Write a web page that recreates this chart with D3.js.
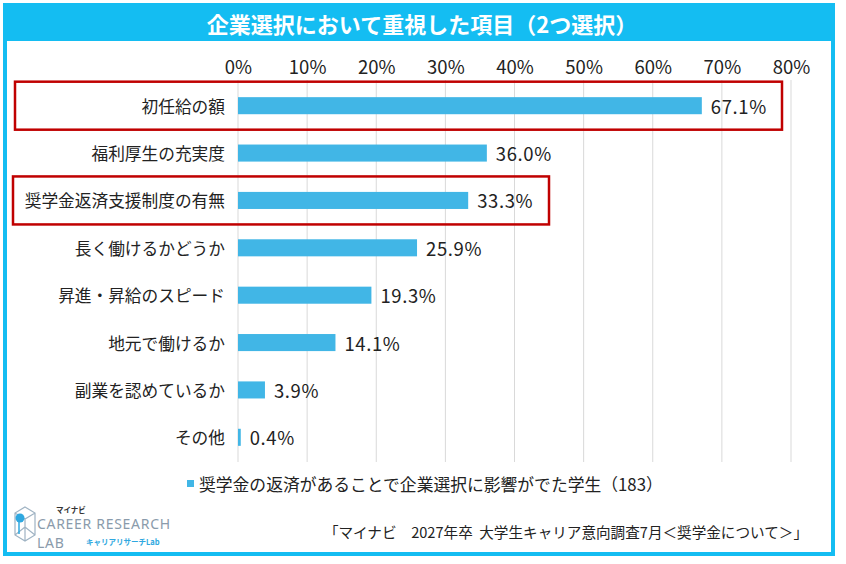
<!DOCTYPE html>
<html>
<head>
<meta charset="utf-8">
<script src="https://cdn.jsdelivr.net/npm/d3@7"></script>
<style>
  body { margin: 0; background: #fff; }
  text { font-family: "Noto Sans CJK JP", "Noto Sans", sans-serif; }
</style>
</head>
<body>
<div id="chart"></div>
<script>
var categories = ["初任給の額", "福利厚生の充実度", "奨学金返済支援制度の有無", "長く働けるかどうか",
  "昇進・昇給のスピード", "地元で働けるか", "副業を認めているか", "その他"];
var values = [67.1, 36.0, 33.3, 25.9, 19.3, 14.1, 3.9, 0.4];
var tickValues = [0, 10, 20, 30, 40, 50, 60, 70, 80];
var highlighted = ["初任給の額", "奨学金返済支援制度の有無"];

var title = "企業選択において重視した項目（2つ選択）";
var legendLabel = "奨学金の返済があることで企業選択に影響がでた学生（183）";
var source = "「マイナビ　2027年卒  大学生キャリア意向調査7月＜奨学金について＞」";

var width = 846, height = 564;
var blue = "#14bdf2";
var barColor = "#41b6e6";

var svg = d3.select("#chart")
  .append("svg")
  .attr("width", width)
  .attr("height", height);

// frame + title band
svg.append("rect")
  .attr("x", 3).attr("y", 3).attr("width", 832).attr("height", 38)
  .style("fill", blue);
svg.append("rect")
  .attr("x", 5).attr("y", 5).attr("width", 828).attr("height", 549)
  .style("fill", "none").style("stroke", blue).style("stroke-width", 4);

svg.append("text")
  .attr("x", 422).attr("y", 23)
  .attr("text-anchor", "middle")
  .attr("dominant-baseline", "central")
  .style("font-size", "22px").style("font-weight", "bold")
  .style("fill", "#fff")
  .text(title);

var x = d3.scaleLinear().domain([0, 80]).range([238, 791]);
var y = d3.scaleBand().domain(categories).range([82, 461])
  .paddingInner(0.64).paddingOuter(0.32);

// gridlines
svg.selectAll(".grid")
  .data(tickValues)
  .enter().append("line")
  .attr("class", "grid")
  .attr("x1", function(d) { return x(d); })
  .attr("x2", function(d) { return x(d); })
  .attr("y1", 80).attr("y2", 462)
  .style("stroke", "#d9d9d9").style("stroke-width", 1);

// top axis labels
var axis = svg.append("g")
  .attr("transform", "translate(0,74)")
  .call(d3.axisTop(x).tickValues(tickValues).tickSize(0).tickPadding(0)
    .tickFormat(function(d) { return d + "%"; }));
axis.select(".domain").remove();
axis.selectAll("text")
  .style("font-family", "\"Noto Sans CJK JP\", sans-serif")
  .style("font-size", "18.5px").style("fill", "#222");

// bars
svg.selectAll(".bar")
  .data(values)
  .enter().append("rect")
  .attr("class", "bar")
  .attr("x", x(0))
  .attr("y", function(d, i) { return y(categories[i]); })
  .attr("width", function(d) { return x(d) - x(0); })
  .attr("height", y.bandwidth())
  .style("fill", barColor);

// category labels
svg.selectAll(".cat")
  .data(categories)
  .enter().append("text")
  .attr("class", "cat")
  .attr("x", 225)
  .attr("y", function(d) { return y(d) + y.bandwidth() / 2; })
  .attr("text-anchor", "end")
  .attr("dominant-baseline", "central")
  .style("font-size", "16.7px").style("fill", "#222")
  .text(function(d) { return d; });

// value labels
svg.selectAll(".val")
  .data(values)
  .enter().append("text")
  .attr("class", "val")
  .attr("x", function(d) { return x(d) + 9; })
  .attr("y", function(d, i) { return y(categories[i]) + y.bandwidth() / 2; })
  .attr("dominant-baseline", "central")
  .style("font-size", "18.5px").style("fill", "#222")
  .style("letter-spacing", "0.6px")
  .text(function(d) { return d.toFixed(1) + "%"; });

// red highlight boxes
var boxX = { "初任給の額": [15, 782], "奨学金返済支援制度の有無": [13, 549] };
svg.selectAll(".hl")
  .data(highlighted)
  .enter().append("rect")
  .attr("class", "hl")
  .attr("x", function(d) { return boxX[d][0]; })
  .attr("y", function(d) { return y(d) + y.bandwidth() / 2 - 24; })
  .attr("width", function(d) { return boxX[d][1] - boxX[d][0]; })
  .attr("height", 48)
  .style("fill", "none").style("stroke", "#c00000").style("stroke-width", 2.5);

// legend
svg.append("rect")
  .attr("x", 187).attr("y", 480).attr("width", 7).attr("height", 7)
  .style("fill", barColor);
svg.append("text")
  .attr("x", 199).attr("y", 484)
  .attr("dominant-baseline", "central")
  .style("font-size", "16.8px").style("fill", "#222")
  .text(legendLabel);

// source
svg.append("text")
  .attr("x", 808).attr("y", 531)
  .attr("text-anchor", "end")
  .attr("dominant-baseline", "central")
  .style("font-size", "14.6px").style("fill", "#222")
  .style("white-space", "pre")
  .text(source);

// logo
var logo = svg.append("g");
var logoGray = "#9fb3c3";
logo.append("path")
  .attr("d", "M25,507 L35,513 L35,535 L25,541 L15,535 L15,513 Z M15,513 L25,519 L35,513 M25,519 L25,541 M15,535 L25,527 L35,535")
  .style("fill", "none").style("stroke", logoGray).style("stroke-width", 1.2);
logo.append("line")
  .attr("x1", 19).attr("y1", 520).attr("x2", 19).attr("y2", 534)
  .style("stroke", "#2fa8e0").style("stroke-width", 1.5);
logo.append("circle")
  .attr("cx", 20).attr("cy", 518).attr("r", 4.5)
  .style("fill", "#2fa8e0");
logo.append("text")
  .attr("x", 56).attr("y", 513)
  .style("font-size", "7.5px").style("font-weight", "bold").style("fill", "#333")
  .text("マイナビ");
logo.append("text")
  .attr("x", 37).attr("y", 529)
  .style("font-size", "14px").style("fill", "#8a9bab")
  .style("letter-spacing", "0.7px")
  .style("font-family", "\"Noto Sans\", sans-serif")
  .text("CAREER RESEARCH");
logo.append("text")
  .attr("x", 37).attr("y", 548)
  .style("font-size", "14px").style("fill", "#8a9bab")
  .style("letter-spacing", "0.7px")
  .style("font-family", "\"Noto Sans\", sans-serif")
  .text("LAB");
logo.append("text")
  .attr("x", 86).attr("y", 545)
  .style("font-size", "7.5px").style("font-weight", "bold").style("fill", "#2fa8e0")
  .text("キャリアリサーチLab");
</script>
</body>
</html>
